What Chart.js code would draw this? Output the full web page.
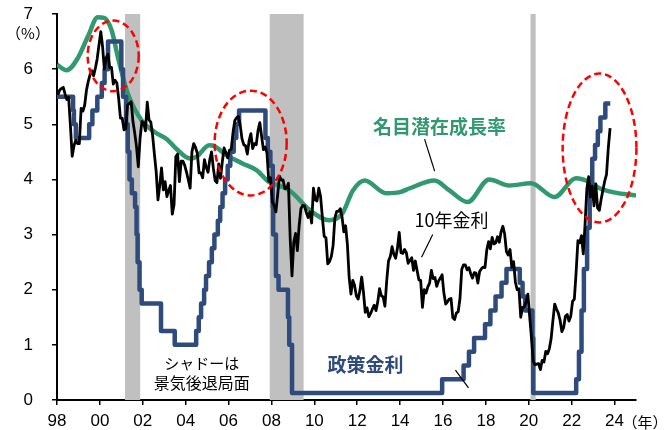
<!DOCTYPE html>
<html lang="ja">
<head>
<meta charset="UTF-8">
<title>政策金利・10年金利・名目潜在成長率</title>
<script src="https://cdn.jsdelivr.net/npm/chart.js"></script>
<style>
  body { margin: 0; background: #fff; }
</style>
</head>
<body>
<canvas id="rateChart" width="665" height="430"></canvas>
<script>
// 10年金利 (monthly, Jan 1998 -)
const yieldStartYear = 1998;
const yield10 = [
  5.53, 5.62, 5.65, 5.67, 5.55, 5.45, 5.49, 4.98, 4.42, 4.61, 4.71, 4.65,
  4.65, 5.29, 5.24, 5.35, 5.62, 5.78, 5.90, 5.97, 5.88, 6.02, 6.19, 6.44,
  6.68, 6.41, 6.00, 6.21, 6.27, 6.03, 6.03, 5.73, 5.80, 5.75, 5.47, 5.11,
  5.11, 4.90, 4.92, 5.35, 5.38, 5.41, 5.05, 4.84, 4.59, 4.23, 4.75, 5.05,
  5.03, 4.88, 5.40, 5.08, 5.04, 4.80, 4.46, 4.14, 3.63, 3.89, 4.21, 3.81,
  3.96, 3.69, 3.80, 3.89, 3.37, 3.54, 4.41, 4.46, 3.96, 4.33, 4.33, 4.25,
  4.13, 3.99, 3.84, 4.50, 4.65, 4.58, 4.48, 4.12, 4.12, 4.03, 4.36, 4.22,
  4.13, 4.36, 4.50, 4.20, 3.98, 3.94, 4.28, 4.02, 4.32, 4.57, 4.49, 4.39,
  4.53, 4.55, 4.85, 5.07, 5.12, 5.14, 4.99, 4.74, 4.63, 4.61, 4.46, 4.70,
  4.83, 4.56, 4.65, 4.63, 4.89, 5.03, 4.78, 4.54, 4.59, 4.48, 3.97, 4.03,
  3.59, 3.53, 3.41, 3.73, 4.06, 3.99, 3.99, 3.83, 3.85, 3.93, 2.92, 2.25,
  2.87, 3.02, 2.71, 3.16, 3.47, 3.53, 3.52, 3.40, 3.31, 3.41, 3.21, 3.84,
  3.63, 3.61, 3.84, 3.69, 3.31, 2.97, 2.94, 2.47, 2.51, 2.60, 2.80, 3.30,
  3.42, 3.42, 3.47, 3.32, 3.05, 3.16, 2.82, 2.22, 1.92, 2.17, 2.08, 1.89,
  1.83, 1.98, 2.23, 1.95, 1.59, 1.67, 1.51, 1.57, 1.65, 1.72, 1.62, 1.78,
  2.02, 1.89, 1.87, 1.70, 2.16, 2.52, 2.60, 2.78, 2.64, 2.57, 2.75, 3.04,
  2.67, 2.66, 2.73, 2.67, 2.48, 2.53, 2.58, 2.35, 2.52, 2.35, 2.18, 2.17,
  1.68, 2.00, 1.94, 2.05, 2.12, 2.35, 2.20, 2.22, 2.06, 2.16, 2.21, 2.27,
  1.94, 1.74, 1.78, 1.83, 1.84, 1.49, 1.46, 1.58, 1.60, 1.84, 2.37, 2.45,
  2.45, 2.36, 2.40, 2.29, 2.21, 2.31, 2.30, 2.12, 2.33, 2.38, 2.41, 2.40,
  2.72, 2.87, 2.74, 2.95, 2.83, 2.85, 2.96, 2.86, 3.05, 3.15, 3.01, 2.69,
  2.63, 2.73, 2.41, 2.51, 2.14, 2.00, 2.02, 1.50, 1.68, 1.69, 1.78, 1.92,
  1.51, 1.13, 0.70, 0.64, 0.65, 0.66, 0.55, 0.72, 0.69, 0.88, 0.84, 0.93,
  1.11, 1.44, 1.74, 1.65, 1.58, 1.45, 1.24, 1.31, 1.52, 1.55, 1.43, 1.52,
  1.79, 1.83, 2.32, 2.89, 2.85, 2.98, 2.65, 3.19, 3.83, 4.05, 3.68, 3.88,
  3.52, 3.92, 3.48, 3.44, 3.64, 3.81, 3.97, 4.09, 4.57, 4.93
];

// 政策金利 (change dates, new level)
const policyDates = [
  1998.0, 1998.75, 1998.79, 1998.88, 1999.5, 1999.65, 1999.88, 2000.09, 2000.22, 2000.38,
  2001.0, 2001.08, 2001.22, 2001.3, 2001.38, 2001.49, 2001.64, 2001.71, 2001.76, 2001.85, 2001.95,
  2002.85, 2003.49, 2004.49, 2004.61, 2004.72, 2004.86, 2004.95, 2005.09, 2005.22, 2005.34,
  2005.5, 2005.61, 2005.72, 2005.84, 2005.96, 2006.08, 2006.24, 2006.36, 2006.49,
  2007.72, 2007.83, 2007.95, 2008.06, 2008.08, 2008.21, 2008.33, 2008.77, 2008.83, 2008.96,
  2015.96, 2016.96, 2017.21, 2017.45, 2017.96, 2018.21, 2018.45, 2018.73, 2018.96,
  2019.58, 2019.71, 2019.83, 2020.17, 2020.21,
  2022.21, 2022.34, 2022.46, 2022.57, 2022.72, 2022.84, 2022.96, 2023.09, 2023.22, 2023.34, 2023.57, 2023.8
];
const policyRates = [
  5.5, 5.25, 5.0, 4.75, 5.0, 5.25, 5.5, 5.75, 6.0, 6.5,
  6.0, 5.5, 5.0, 4.5, 4.0, 3.75, 3.5, 3.0, 2.5, 2.0, 1.75,
  1.25, 1.0, 1.25, 1.5, 1.75, 2.0, 2.25, 2.5, 2.75, 3.0,
  3.25, 3.5, 3.75, 4.0, 4.25, 4.5, 4.75, 5.0, 5.25,
  4.75, 4.5, 4.25, 3.5, 3.0, 2.25, 2.0, 1.5, 1.0, 0.125,
  0.375, 0.625, 0.875, 1.125, 1.375, 1.625, 1.875, 2.125, 2.375,
  2.125, 1.875, 1.625, 1.125, 0.125,
  0.375, 0.875, 1.625, 2.375, 3.125, 3.875, 4.375, 4.625, 4.875, 5.125, 5.375, 5.375
];

// 名目潜在成長率
const potentialDates = [
  1998.0, 1998.45, 1998.97, 1999.45, 1999.9, 2000.2, 2000.55, 2000.85, 2001.3, 2001.95,
  2002.55, 2003.15, 2003.55, 2004.2, 2004.5, 2005.1, 2005.35, 2005.9, 2006.65, 2007.3,
  2007.9, 2008.4, 2008.85, 2009.8, 2010.7, 2011.3, 2011.8, 2012.35, 2013.35, 2014.0,
  2014.45, 2015.6, 2016.3, 2017.15, 2018.15, 2019.1, 2020.1, 2021.2, 2022.2, 2022.85,
  2023.3, 2023.9, 2025.0
];
const potentialGrowth = [
  6.08, 5.98, 6.2, 6.6, 6.94, 6.93, 6.7, 6.2, 5.56, 5.07,
  4.86, 4.72, 4.56, 4.38, 4.41, 4.62, 4.6, 4.44, 4.29, 4.17,
  3.95, 3.88, 3.8, 3.44, 3.26, 3.38, 3.8, 3.98, 3.75, 3.77,
  3.84, 3.98, 3.8, 3.59, 4.0, 3.89, 3.93, 3.68, 4.02, 3.95,
  3.84, 3.77, 3.71
];

// 景気後退局面
const recessionStart = [2001.17, 2007.92, 2020.08];
const recessionEnd = [2001.88, 2009.5, 2020.32];

const green = '#31996F';
const navy = '#2F4B7C';

const yieldPoints = yield10.map((v, i) => ({ x: yieldStartYear + (i + 0.5) / 12, y: v }));
const policyPoints = policyDates.map((d, i) => ({ x: d, y: policyRates[i] }));
const potentialPoints = potentialDates.map((d, i) => ({ x: d, y: potentialGrowth[i] }));

// annotations, placed in data units
const ellipses = [
  { cx: 2000.62, cy: 6.24, rx: 1.19, ry: 0.64 },
  { cx: 2007.03, cy: 4.66, rx: 1.68, ry: 0.95 },
  { cx: 2023.3, cy: 4.57, rx: 1.72, ry: 1.35 }
];
const labels = [
  { text: '名目潜在成長率', x: 2015.84, y: 4.95, color: green, font: 'bold 19px "Noto Sans CJK JP"' },
  { text: '10年金利', x: 2016.4, y: 3.26, color: '#000', font: '18px "Noto Sans CJK JP"' },
  { text: '政策金利', x: 2012.39, y: 0.63, color: navy, font: 'bold 19px "Noto Sans CJK JP"' },
  { text: 'シャドーは', x: 2004.75, y: 0.67, color: '#000', font: '15px "Noto Sans CJK JP"' },
  { text: '景気後退局面', x: 2004.75, y: 0.31, color: '#000', font: '16px "Noto Sans CJK JP"' }
];
const leaders = [
  [2015.14, 4.73, 2015.61, 4.15],
  [2015.52, 3.0, 2015.0, 2.59],
  [2016.58, 0.54, 2017.19, 0.22]
];

const decor = {
  id: 'decor',
  beforeDatasetsDraw(chart) {
    const { ctx, chartArea, scales: { x } } = chart;
    ctx.save();
    ctx.fillStyle = '#C0C0C0';
    recessionStart.forEach((s, i) => {
      const x0 = x.getPixelForValue(s);
      const x1 = x.getPixelForValue(recessionEnd[i]);
      ctx.fillRect(x0, chartArea.top, x1 - x0, chartArea.bottom - chartArea.top);
    });
    ctx.restore();
  },
  afterDatasetsDraw(chart) {
    const { ctx, scales: { x, y } } = chart;
    ctx.save();
    ctx.strokeStyle = '#FF0000';
    ctx.lineWidth = 2.5;
    ctx.setLineDash([7, 4]);
    ellipses.forEach(e => {
      const px = x.getPixelForValue(e.cx);
      const py = y.getPixelForValue(e.cy);
      const rx = x.getPixelForValue(e.cx + e.rx) - px;
      const ry = py - y.getPixelForValue(e.cy + e.ry);
      ctx.beginPath();
      ctx.ellipse(px, py, rx, ry, 0, 0, Math.PI * 2);
      ctx.stroke();
    });
    ctx.setLineDash([]);
    ctx.strokeStyle = '#000';
    ctx.lineWidth = 1.2;
    leaders.forEach(l => {
      ctx.beginPath();
      ctx.moveTo(x.getPixelForValue(l[0]), y.getPixelForValue(l[1]));
      ctx.lineTo(x.getPixelForValue(l[2]), y.getPixelForValue(l[3]));
      ctx.stroke();
    });
    ctx.textAlign = 'center';
    ctx.textBaseline = 'middle';
    labels.forEach(t => {
      ctx.font = t.font;
      ctx.fillStyle = t.color;
      ctx.fillText(t.text, x.getPixelForValue(t.x), y.getPixelForValue(t.y));
    });
    ctx.restore();
  },
  afterDraw(chart) {
    const { ctx, chartArea } = chart;
    ctx.save();
    ctx.fillStyle = '#000';
    ctx.textAlign = 'center';
    ctx.textBaseline = 'middle';
    ctx.font = '15px "Noto Sans CJK JP"';
    ctx.fillText('（%）', 28, chartArea.top + 19);
    ctx.fillText('（年）', chartArea.right + 9, chartArea.bottom + 22);
    ctx.restore();
  }
};

new Chart(document.getElementById('rateChart'), {
  type: 'line',
  data: {
    datasets: [
      { label: '10年金利', data: yieldPoints, borderColor: '#000', borderWidth: 2.8, pointRadius: 0, tension: 0 },
      { label: '政策金利', data: policyPoints, borderColor: navy, borderWidth: 4.5, pointRadius: 0, stepped: true },
      { label: '名目潜在成長率', data: potentialPoints, borderColor: green, borderWidth: 4.5, pointRadius: 0, cubicInterpolationMode: 'monotone' }
    ]
  },
  options: {
    responsive: false,
    animation: false,
    layout: { padding: { top: 14, right: 29, left: 0, bottom: 0 } },
    plugins: { legend: { display: false }, tooltip: { enabled: false } },
    elements: { line: { borderJoinStyle: 'round', borderCapStyle: 'butt' } },
    scales: {
      x: {
        type: 'linear',
        min: 1998,
        max: 2025,
        afterFit: s => { s.height = 30; },
        grid: { display: true, drawOnChartArea: false, tickLength: 5, color: '#000', lineWidth: 1.5 },
        border: { display: true, color: '#000', width: 2 },
        ticks: {
          stepSize: 2,
          includeBounds: false,
          padding: 6,
          color: '#000',
          font: { family: '"Liberation Sans", Arial', size: 17 },
          callback: v => String(v % 100).padStart(2, '0')
        }
      },
      y: {
        min: 0,
        max: 7,
        afterFit: s => { s.width = 57; s.paddingTop = 0; s.paddingBottom = 0; },
        grid: { display: true, drawOnChartArea: false, tickLength: 5, color: '#000', lineWidth: 1.5 },
        border: { display: true, color: '#000', width: 2 },
        ticks: {
          stepSize: 1,
          padding: 19,
          color: '#000',
          font: { family: '"Liberation Sans", Arial', size: 17 }
        }
      }
    }
  },
  plugins: [decor]
});
</script>
</body>
</html>
